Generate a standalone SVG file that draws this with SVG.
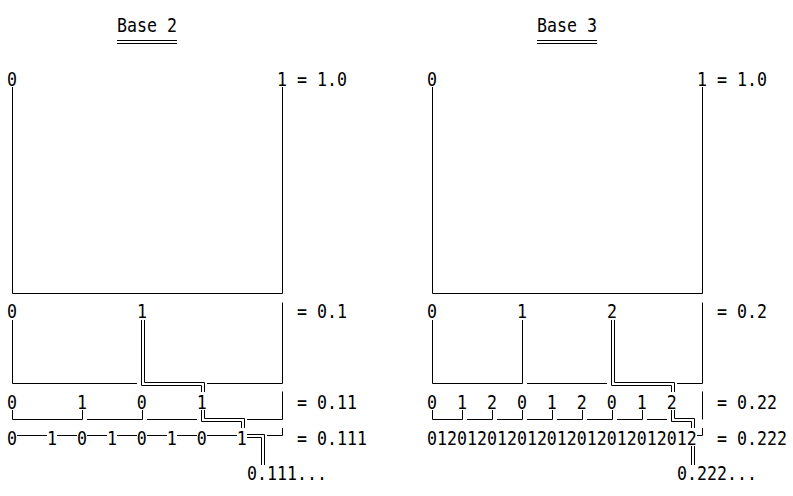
<svg xmlns="http://www.w3.org/2000/svg" width="793" height="496" viewBox="0 0 793 496">
<style>
.t{font-family:"DejaVu Sans Mono","Liberation Mono",monospace;font-size:16.6px;fill:#000;white-space:pre}
.l{fill:none;stroke:#000;stroke-width:1}
</style>
<rect width="793" height="496" fill="#fff"/>
<g id="base2">
  <g id="base2-labels">
    <text class="t" xml:space="preserve" transform="translate(117,32) scale(1,1.16)">Base 2</text>
    <text class="t" xml:space="preserve" transform="translate(7,86) scale(1,1.16)">0</text>
    <text class="t" xml:space="preserve" transform="translate(277,86) scale(1,1.16)">1 = 1.0</text>
    <text class="t" xml:space="preserve" transform="translate(7,318) scale(1,1.16)">0</text>
    <text class="t" xml:space="preserve" transform="translate(137,318) scale(1,1.16)">1</text>
    <text class="t" xml:space="preserve" transform="translate(297,318) scale(1,1.16)">= 0.1</text>
    <text class="t" xml:space="preserve" transform="translate(7,409) scale(1,1.16)">0      1     0     1</text>
    <text class="t" xml:space="preserve" transform="translate(297,409) scale(1,1.16)">= 0.11</text>
    <text class="t" xml:space="preserve" transform="translate(7,445) scale(1,1.16)">0   1  0  1  0  1  0   1</text>
    <text class="t" xml:space="preserve" transform="translate(297,445) scale(1,1.16)">= 0.111</text>
    <text class="t" xml:space="preserve" transform="translate(247,480) scale(1,1.16)">0.111...</text>
  </g>
  <g id="base2-connectors">
    <path class="l" d="M117,40.5H177M117,43.5H177"/>
    <path class="l" d="M12.5,87V293.5H282.5V87"/>
    <path class="l" d="M12.5,320V383.5H137M207,383.5H282.5V302.5"/>
    <path class="l" d="M141.5,320V385.5H201.5V392M144.5,320V382.5H204.5V392"/>
    <path class="l" d="M12.5,410V419.5H82.5V410M87,419.5H142.5V410M147,419.5H197M247,419.5H282.5V391.5"/>
    <path class="l" d="M201.5,410V421.5H241.5V428M204.5,410V418.5H244.5V428"/>
    <path class="l" d="M17,435.5H47M57,435.5H77M87,435.5H107M117,435.5H137M147,435.5H167M177,435.5H197M207,435.5H237"/>
    <path class="l" d="M247,434.5H264.5V465M247,437.5H261.5V465"/>
    <path class="l" d="M267,435.5H282.5V428"/>
  </g>
</g>
<g id="base3">
  <g id="base3-labels">
    <text class="t" xml:space="preserve" transform="translate(537,32) scale(1,1.16)">Base 3</text>
    <text class="t" xml:space="preserve" transform="translate(427,86) scale(1,1.16)">0</text>
    <text class="t" xml:space="preserve" transform="translate(697,86) scale(1,1.16)">1 = 1.0</text>
    <text class="t" xml:space="preserve" transform="translate(427,318) scale(1,1.16)">0</text>
    <text class="t" xml:space="preserve" transform="translate(517,318) scale(1,1.16)">1</text>
    <text class="t" xml:space="preserve" transform="translate(607,318) scale(1,1.16)">2</text>
    <text class="t" xml:space="preserve" transform="translate(717,318) scale(1,1.16)">= 0.2</text>
    <text class="t" xml:space="preserve" transform="translate(427,409) scale(1,1.16)">0  1  2  0  1  2  0  1  2</text>
    <text class="t" xml:space="preserve" transform="translate(717,409) scale(1,1.16)">= 0.22</text>
    <text class="t" xml:space="preserve" transform="translate(427,445) scale(1,1.16)">012012012012012012012012012</text>
    <text class="t" xml:space="preserve" transform="translate(717,445) scale(1,1.16)">= 0.222</text>
    <text class="t" xml:space="preserve" transform="translate(677,480) scale(1,1.16)">0.222...</text>
  </g>
  <g id="base3-connectors">
    <path class="l" d="M537,40.5H597M537,43.5H597"/>
    <path class="l" d="M432.5,87V293.5H702.5V87"/>
    <path class="l" d="M432.5,320V383.5H522.5V320M527,383.5H607M677,383.5H702.5V302.5"/>
    <path class="l" d="M611.5,320V385.5H671.5V392M614.5,320V382.5H674.5V392"/>
    <path class="l" d="M432.5,410V419.5H462.5V410M467,419.5H492.5V410M497,419.5H522.5V410M527,419.5H552.5V410M557,419.5H582.5V410M587,419.5H612.5V410M617,419.5H642.5V410M647,419.5H667"/>
    <path class="l" d="M671.5,410V421.5H691.5V428M674.5,410V418.5H694.5V428"/>
    <path class="l" d="M702.5,391.5V419.5"/>
    <path class="l" d="M697,435.5H702.5V428"/>
    <path class="l" d="M691.5,446V465M694.5,446V465"/>
  </g>
</g>
</svg>
